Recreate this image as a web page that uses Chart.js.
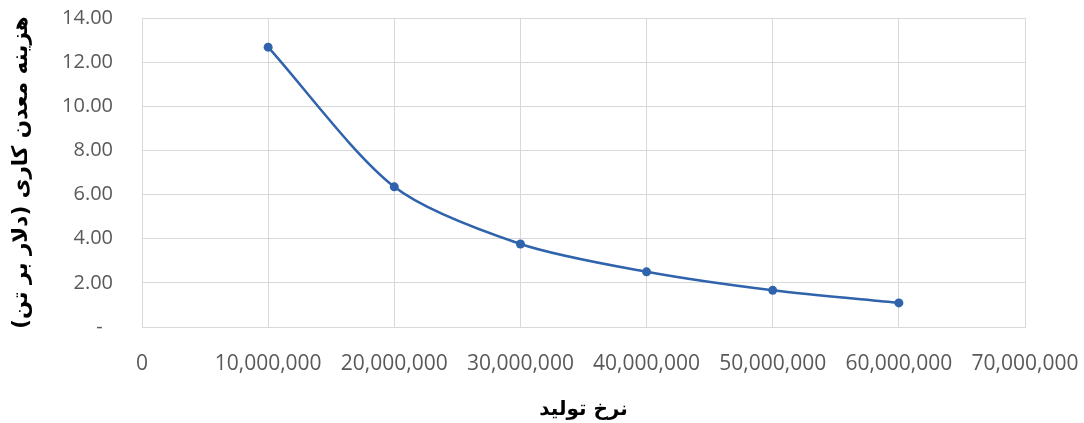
<!DOCTYPE html>
<html>
<head>
<meta charset="utf-8">
<script src="https://cdn.jsdelivr.net/npm/chart.js@4/dist/chart.umd.min.js"></script>
<style>
  html, body { margin: 0; padding: 0; background: #ffffff; }
  #wrap { width: 1084px; height: 423px; }
</style>
</head>
<body>
<div id="wrap"><canvas id="c" width="1084" height="423"></canvas></div>
<script>
// Production rate (tonnes) and mining cost (dollars per tonne)
const productionRate = [10000000, 20000000, 30000000, 40000000, 50000000, 60000000];
const miningCost = [12.68, 6.35, 3.76, 2.50, 1.66, 1.09];

// Axis tick labels
const yTickLabels = ['-  ', '2.00', '4.00', '6.00', '8.00', '10.00', '12.00', '14.00'];
const xTickLabels = ['0', '10,000,000', '20,000,000', '30,000,000', '40,000,000', '50,000,000', '60,000,000', '70,000,000'];

const xTitle = 'نرخ تولید';
const yTitle = '\u200Fهزینه معدن کاری (دلار بر تن)\u200F';

const points = productionRate.map((x, i) => ({ x: x, y: miningCost[i] }));

const gridColor = '#d9d9d9';
const tickColor = '#595959';
const lineColor = '#2F63AC';

new Chart(document.getElementById('c'), {
  type: 'line',
  data: {
    datasets: [{
      data: points,
      borderColor: lineColor,
      backgroundColor: lineColor,
      borderWidth: 2.5,
      pointRadius: 4.5,
      pointBackgroundColor: lineColor,
      pointBorderColor: lineColor,
      pointBorderWidth: 0,
      tension: 0.28,
      fill: false
    }]
  },
  options: {
    responsive: false,
    animation: false,
    devicePixelRatio: 1,
    layout: { padding: { top: 18, right: 59, left: 0, bottom: 0 } },
    plugins: {
      legend: { display: false },
      tooltip: { enabled: false }
    },
    scales: {
      x: {
        type: 'linear',
        min: 0,
        max: 70000000,
        afterFit: (s) => { s.height = 96; s.paddingLeft = 0; s.paddingRight = 0; },
        afterBuildTicks: (s) => {
          s.ticks = xTickLabels.map((_, i) => ({ value: i * 10000000 }));
        },
        ticks: {
          padding: 24,
          maxRotation: 0,
          autoSkip: false,
          color: tickColor,
          font: { family: 'Open Sans', size: 21 },
          callback: (v, i) => xTickLabels[i]
        },
        grid: { color: gridColor, lineWidth: 1, drawTicks: false },
        border: { color: gridColor, width: 1 },
        title: {
          display: true,
          text: xTitle,
          color: '#000000',
          font: { family: 'DejaVu Sans', size: 20, weight: 'bold' },
          padding: { top: 0, bottom: 1 }
        }
      },
      y: {
        min: 0,
        max: 14,
        afterFit: (s) => { s.width = 142; s.paddingTop = 0; s.paddingBottom = 0; },
        afterBuildTicks: (s) => {
          s.ticks = yTickLabels.map((_, i) => ({ value: i * 2 }));
        },
        ticks: {
          padding: 29,
          autoSkip: false,
          color: tickColor,
          font: { family: 'Open Sans', size: 20 },
          callback: (v, i) => yTickLabels[i]
        },
        grid: { color: gridColor, lineWidth: 1, drawTicks: false },
        border: { color: gridColor, width: 1 },
        title: {
          display: true,
          text: yTitle,
          color: '#000000',
          font: { family: 'DejaVu Sans', size: 21.5, weight: 'bold' },
          padding: { top: 9, bottom: 0 }
        }
      }
    }
  }
});
</script>
</body>
</html>
